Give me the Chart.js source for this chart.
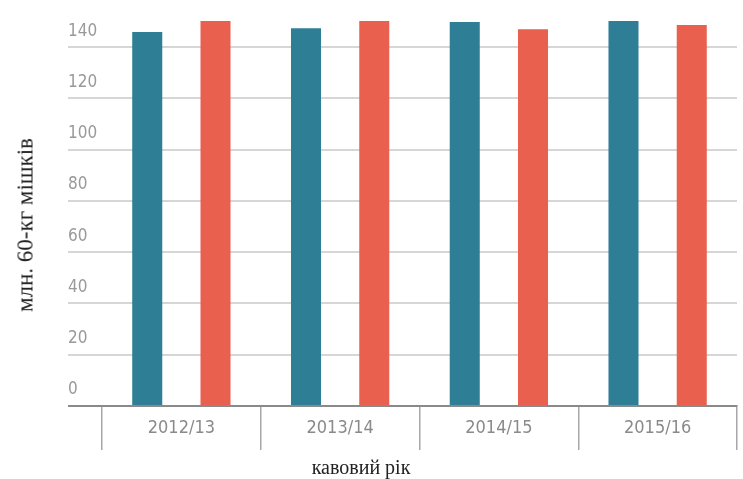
<!DOCTYPE html>
<html>
<head>
<meta charset="utf-8">
<script src="https://cdn.jsdelivr.net/npm/chart.js@4"></script>
<style>
  html, body { margin: 0; padding: 0; background: #fff; }
  #wrap { position: relative; width: 743px; height: 479px; }
  .axis-title { position: absolute; font-family: "Liberation Serif", serif; color: #222; white-space: nowrap; }
  #ytitle { left: 25px; top: 225px; font-size: 23px; line-height: 23px; transform: translate(-50%, -50%) rotate(-90deg); }
  #xtitle { left: 361px; top: 457px; font-size: 20px; line-height: 20px; transform: translateX(-50%); }
</style>
</head>
<body>
<div id="wrap">
  <canvas id="myChart" width="743" height="479"></canvas>
  <div id="ytitle" class="axis-title">млн. 60-кг мішків</div>
  <div id="xtitle" class="axis-title">кавовий рік</div>
</div>
<script>
const years = ['2012/13', '2013/14', '2014/15', '2015/16'];
const production = [145.9, 147.4, 149.8, 150.2];
const consumption = [150.2, 150.2, 147.0, 148.6];

window.addEventListener('load', setup);

function setup() {
  const ctx = document.getElementById('myChart').getContext('2d');
  new Chart(ctx, {
    type: 'bar',
    data: {
      labels: years,
      datasets: [
        {
          label: 'виробництво',
          data: production,
          backgroundColor: '#2e7f96',
          categoryPercentage: 0.86,
          barPercentage: 0.44
        },
        {
          label: 'споживання',
          data: consumption,
          backgroundColor: '#e9604f',
          categoryPercentage: 0.86,
          barPercentage: 0.44
        }
      ]
    },
    options: {
      responsive: false,
      animation: false,
      layout: { padding: { left: 68, right: 6, top: 1, bottom: 0 } },
      plugins: { legend: { display: false }, tooltip: { enabled: false } },
      scales: {
        x: {
          offset: true,
          grid: { drawOnChartArea: false, drawTicks: true, tickLength: 44, color: '#a8a8a8', lineWidth: 1.5 },
          border: { display: true, color: '#8a8a8a', width: 2 },
          ticks: { padding: -32, color: '#8a8a8a', font: { family: 'DejaVu Sans Condensed', size: 18 } },
          afterFit: s => { s.height = 73; }
        },
        y: {
          min: 0,
          max: 154.4,
          grid: {
            color: c => c.tick && c.tick.value === 0 ? '#8a8a8a' : '#d6d6d6',
            lineWidth: 2,
            tickLength: 34
          },
          border: { display: false },
          ticks: {
            stepSize: 20,
            includeBounds: false,
            crossAlign: 'far',
            labelOffset: -16,
            padding: 0,
            color: '#999999',
            font: { family: 'DejaVu Sans Condensed', size: 17 }
          },
          afterFit: s => { s.width = 34; }
        }
      }
    }
  });
}
</script>
</body>
</html>
